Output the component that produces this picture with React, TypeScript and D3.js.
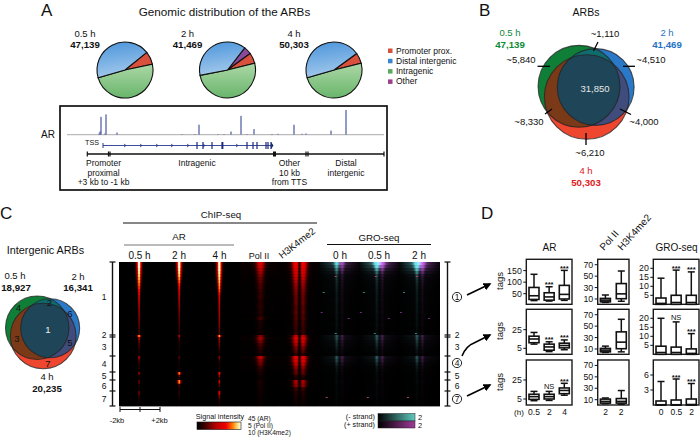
import React from "react";
import * as d3 from "d3";

const FONT = "'Liberation Sans', Arial, sans-serif";

// ---------- Panel A ----------
const pieLabels = ["0.5 h", "2 h", "4 h"];
const pieCounts = ["47,139", "41,469", "50,303"];
const pieShares = [
  [27, 176, 157, 0],
  [22, 183, 139, 16],
  [22, 178, 160, 0],
];
const pieStarts = [51, 38, 54];
const legendNames = ["Promoter prox.", "Distal intergenic", "Intragenic", "Other"];
const trackPeaks = [
  [32, 1], [33, 3], [34, 18], [38, 1], [39, 20.5], [50, 2], [115, 0.5], [128, 0.5], [132, 10],
  [151, 0.5], [157, 0.5], [164, 3], [174, 19], [180, 0.5], [187, 5.5], [205, 0.5], [211, 0.7],
  [227, 10], [235, 0.7], [239, 1], [264, 4], [279, 25],
];
const geneExons = [130, 136, 145, 155, 180, 186, 190, 199, 201, 204];
const geneChevrons = [58, 74, 90, 105, 121, 137, 170];
const regionTicks = [20.3, 41.5, 43, 207.5, 239, 241, 317];

// ---------- Venns ----------
const vennB = { labels: ["0.5 h", "2 h", "4 h"], counts: [47139, 41469, 50303] };
const vennC = { labels: ["0.5 h", "2 h", "4 h"], counts: [18927, 16341, 20235] };
const vennCNumbers = ["1", "2", "3", "4", "5", "6", "7"];

// ---------- Panel C heat map: row intensities per track, per cluster ----------
const clusterSizes = [73, 2, 19, 16, 8, 11, 15];
const ar05 = [
  [1, 1, 0.98, 0.96, 0.93, 0.9, 0.86, 0.82, 0.78, 0.72, 0.66, 0.6, 0.56, 0.52, 0.5, 0.47, 0.44, 0.42, 0.4, 0.37, 0.34, 0.3, 0.26, 0.22],
  [0.85], [0.5, 0.36, 0.28, 0.2, 0.12, 0.08], [0.5, 0.3, 0.18, 0.12, 0.08], [0.45, 0.1, 0.06], [0.34, 0.12, 0.07], [0.36, 0.18, 0.09, 0.04],
];
const ar2 = [
  [1, 1, 0.98, 0.95, 0.92, 0.86, 0.8, 0.74, 0.68, 0.62, 0.58, 0.54, 0.5, 0.47, 0.44, 0.4, 0.36, 0.32, 0.3, 0.28, 0.25, 0.22, 0.2, 0.18],
  [0.55], [0.26, 0.18, 0.12, 0.09, 0.07, 0.05], [0.28, 0.1, 0.07, 0.05, 0.04], [0.82, 0.28, 0.14], [0.85, 0.26, 0.1], [0.18, 0.09, 0.05, 0.03],
];
const ar4 = [
  [1, 1, 1, 0.98, 0.96, 0.93, 0.9, 0.86, 0.82, 0.76, 0.68, 0.62, 0.58, 0.55, 0.52, 0.5, 0.47, 0.45, 0.42, 0.4, 0.37, 0.34, 0.3, 0.26],
  [0.86], [0.46, 0.4, 0.32, 0.24, 0.14, 0.09], [0.4, 0.18, 0.1, 0.09, 0.07], [0.66, 0.4, 0.18], [0.52, 0.26, 0.1], [0.62, 0.36, 0.18, 0.08],
];
const polII = [
  [0.52, 0.48, 0.42, 0.36, 0.3, 0.26, 0.24, 0.2, 0.19, 0.16, 0.14, 0.16, 0.12, 0.11, 0.13, 0.1, 0.11, 0.09, 0.18, 0.08, 0.07, 0.06, 0.06, 0.05],
  [0.3], [0.36, 0.28, 0.2, 0.14, 0.1, 0.07], [0.42, 0.32, 0.26, 0.16, 0.1], [0.07, 0.05, 0.04], [0.08, 0.06, 0.05], [0.05, 0.04, 0.03, 0.03],
];
const h3k4 = [
  [0.62, 0.6, 0.56, 0.52, 0.48, 0.44, 0.4, 0.36, 0.33, 0.3, 0.28, 0.26, 0.25, 0.25, 0.22, 0.21, 0.23, 0.2, 0.21, 0.18, 0.18, 0.16, 0.15, 0.16],
  [0.44], [0.52, 0.46, 0.38, 0.28, 0.22, 0.14], [0.56, 0.54, 0.44, 0.34, 0.26], [0.24, 0.12, 0.08], [0.38, 0.34, 0.16], [0.1, 0.08, 0.06, 0.04],
];
const gro0 = [
  [0.8, 0.66, 0.5, 0.36, 0.24, 0.2, 0.17, 0.15, 0.13, 0.12, 0.1, 0.1, 0.11, 0.09, 0.08, 0.08, 0.09, 0.07, 0.07, 0.06, 0.07, 0.05, 0.05, 0.06],
  [0.34], [0.3, 0.22, 0.18, 0.12, 0.08, 0.06], [0.34, 0.28, 0.18, 0.1, 0.07], [0.05, 0.04, 0.03], [0.05, 0.03, 0.03], [0.03, 0.03, 0.02, 0.02],
];
const gro05 = [
  [1, 0.84, 0.62, 0.42, 0.28, 0.22, 0.18, 0.15, 0.14, 0.12, 0.11, 0.1, 0.11, 0.09, 0.09, 0.08, 0.09, 0.07, 0.07, 0.06, 0.07, 0.05, 0.05, 0.06],
  [0.36], [0.32, 0.24, 0.18, 0.12, 0.08, 0.06], [0.36, 0.28, 0.18, 0.1, 0.07], [0.05, 0.04, 0.03], [0.05, 0.03, 0.03], [0.03, 0.03, 0.02, 0.02],
];
const gro2 = [
  [1, 0.88, 0.7, 0.5, 0.32, 0.24, 0.2, 0.16, 0.14, 0.12, 0.11, 0.1, 0.11, 0.09, 0.09, 0.08, 0.09, 0.07, 0.07, 0.06, 0.07, 0.05, 0.05, 0.06],
  [0.36], [0.3, 0.24, 0.18, 0.12, 0.08, 0.06], [0.32, 0.26, 0.16, 0.1, 0.07], [0.05, 0.04, 0.03], [0.05, 0.03, 0.03], [0.03, 0.03, 0.02, 0.02],
];
// isolated GRO-seq specks: [track, row (peak rank), offset from centre, 0 = pink, 1 = teal, 2 = purple]
const groSpecks = [
  [5, 14, -4, 0], [6, 14, -4, 0], [7, 14, -3, 0],
  [5, 30, -16, 1], [6, 30, -16, 1], [7, 30, -16, 1],
  [5, 50, -18, 2], [6, 50, -19, 2], [7, 50, -19, 2],
  [5, 56, 9, 2], [6, 56, 9, 2], [7, 56, 9, 2],
  [5, 71, -4, 1], [6, 71, -5, 1], [7, 71, -4, 1],
  [5, 135, -13, 0], [6, 135, -12, 0], [7, 135, -12, 0],
];
const speckColors = ["#b03a78", "#2f8a7e", "#6e2e7c"];
const chipHeaders = ["0.5 h", "2 h", "4 h", "Pol II"];
const groHeaders = ["0 h", "0.5 h", "2 h"];
const rightLabels = ["1", "2", "3", "4", "5", "6", "7"];

// ---------- Panel D boxes: [low, q1, median, q3, high] ----------
const arRow1 = [[20, 25, 41, 77, 134], [18, 22, 36, 54, 80], [21, 27, 47, 86, 151]];
const arRow2 = [[9.5, 11, 15, 18, 22], [1.5, 3, 6.5, 9.5, 12], [3.5, 5.5, 8, 10.5, 14]];
const arRow3 = [[3.2, 4.6, 7.5, 10, 13], [3.5, 5, 7.5, 10, 13], [9, 10.6, 14, 16.6, 21.5]];
const polRow1 = [[4, 5, 8, 11, 17], [6, 10.5, 19, 37, 59]];
const polRow2 = [[4, 5, 8, 11, 15], [5, 10.5, 22, 40, 62]];
const polRow3 = [[3, 4, 7, 11, 13], [2, 4, 7, 12, 26]];
const groRow1 = [[0, 0, 0.5, 3.5, 14.5], [0, 0, 1, 5, 19], [0, 0, 1, 5, 18]];
const groRow2 = [[0, 0, 1, 4.5, 20], [0, 0, 1, 4, 18], [0, 0, 0.5, 3, 11.5]];
const groRow3 = [[0, 0, 0.05, 0.8, 4.7], [0, 0, 0.05, 1, 5.2], [0, 0, 0.1, 1.2, 4.3]];
const arTicks = [[50, 100, 150], [5, 25], [5, 25]];
const polTicks = [10, 30, 50, 70];
const groTicks = [[5, 10, 15, 20], [5, 10, 15, 20], [3, 6]];
const arMarks = [["", "***", "***"], ["", "***", "***"], ["", "NS", "***"]];
const groMarks = [["", "***", "***"], ["", "NS", "***"], ["", "***", "***"]];
const arCats = ["0.5", "2", "4"];
const polCats = ["2", "2"];
const groCats = ["0", "0.5", "2"];

// ---------- helpers ----------
const hot = d3
  .scaleLinear<string>()
  .domain([0, 0.15, 0.45, 0.66, 0.8, 0.92, 1])
  .range(["#000000", "#300000", "#c00000", "#f00000", "#ff7000", "#ffe070", "#ffffff"])
  .clamp(true);
const g = (d: number, m: number, s: number) => Math.exp(-((d - m) * (d - m)) / (2 * s * s));
const arColor = (d: number, v: number) =>
  hot(v * g(d, 0, 0.5 + 1.2 * v * v * v * v) + 0.03 * v * g(d, 0, 3));
const polColor = (d: number, v: number) => hot(v * g(d, 1, 2 + 2.5 * v) + 0.05 * v);
const h3Color = (d: number, v: number) =>
  hot(v * g(Math.abs(d), 3.4, 1.6 + 2.4 * v) * (1 - 0.95 * g(d, 0, 0.9)) + 0.06 * v * g(d, 0, 12));
const groColor = (d: number, v: number) => {
  const s = 0.9 + 1.6 * v * v;
  const t = Math.min(1, v * g(d, -3, s) + 0.22 * v * v * g(d, -9, 6) + 0.12 * v * g(d, -3, 10));
  const p = Math.min(1, 0.85 * v * g(d, 2.5, s) + 0.22 * v * v * g(d, 8, 6) + 0.12 * v * g(d, 3, 10));
  return d3.rgb(85 * t + 175 * p, 215 * t + 60 * p, 205 * t + 185 * p).formatHex();
};

const heatX = d3.scaleLinear().domain([0, 8]).range([119, 440]);
const heatY = d3.scaleLinear().domain([0, d3.sum(clusterSizes)]).range([262, 406]);
const clusterEdges = d3.cumsum(clusterSizes);

const tracks: { rows: number[][]; color: (d: number, v: number) => string }[] = [
  { rows: ar05, color: arColor },
  { rows: ar2, color: arColor },
  { rows: ar4, color: arColor },
  { rows: polII, color: polColor },
  { rows: h3k4, color: h3Color },
  { rows: gro0, color: groColor },
  { rows: gro05, color: groColor },
  { rows: gro2, color: groColor },
];

function Heatmap() {
  const defs: React.ReactNode[] = [];
  const rects: React.ReactNode[] = [];
  const stopsIdx = d3.range(0, 81);
  tracks.forEach((tr, ti) => {
    const x0 = heatX(ti);
    const x1 = heatX(ti + 1);
    tr.rows.forEach((rows, ci) => {
      const start = ci === 0 ? 0 : clusterEdges[ci - 1];
      const size = clusterSizes[ci];
      rows.forEach((v, ri) => {
        const id = `h${ti}-${ci}-${ri}`;
        defs.push(
          <linearGradient id={id} key={id}>
            {stopsIdx.map((i) => (
              <stop key={i} offset={i / 80} stopColor={tr.color(i / 2 - 20, v)} />
            ))}
          </linearGradient>
        );
        const y0 = heatY(start + (size * ri) / rows.length);
        const y1 = heatY(start + (size * (ri + 1)) / rows.length);
        rects.push(<rect key={id} x={x0} y={y0} width={x1 - x0} height={y1 - y0 + 0.4} fill={`url(#${id})`} />);
      });
    });
  });
  return (
    <g>
      <defs>{defs}</defs>
      <rect x={119} y={262} width={321} height={144} fill="#000" />
      {rects}
      {groSpecks.map(([t, r, d, c], i) => (
        <rect key={i} x={heatX(t + 0.5) + d - 1} y={heatY(r)} width={2} height={1} fill={speckColors[c]} />
      ))}
    </g>
  );
}

function Pie({ cx, cy, idx }: { cx: number; cy: number; idx: number }) {
  const vals = pieShares[idx];
  const start = (pieStarts[idx] * Math.PI) / 180;
  const pie = d3.pie<number>().sort(null).startAngle(start).endAngle(start + 2 * Math.PI);
  const arc = d3.arc<d3.PieArcDatum<number>>().innerRadius(0).outerRadius(28);
  const fills = ["#d9503c", "url(#pGreen)", "url(#pBlue)", "#8a4a9c"];
  const order = [3, 0, 1, 2];
  const arcs = pie(order.map((i) => vals[i]));
  return (
    <g transform={`translate(${cx},${cy})`}>
      {arcs.map((a, i) =>
        a.value === 0 ? null : <path key={i} d={arc(a) || ""} fill={fills[order[i]]} stroke="#111" strokeWidth={1.1} />
      )}
      <text x={-40} y={-33} textAnchor="middle" fontSize={9.5}>{pieLabels[idx]}</text>
      <text x={-40} y={-22} textAnchor="middle" fontSize={9.7} fontWeight="bold">{pieCounts[idx]}</text>
    </g>
  );
}

function Venn({ id, cx, cy, rMax, scale, counts }: { id: string; cx: number; cy: number; rMax: number; scale: number; counts: number[] }) {
  const r = d3.scaleSqrt().domain([0, d3.max(counts) as number]).range([0, rMax]);
  const gc = { x: cx - 7.7 * scale, y: cy - 10.7 * scale, r: r(counts[0]) };
  const bc = { x: cx + 9 * scale, y: cy - 10 * scale, r: r(counts[1]) };
  const rc = { x: cx, y: cy, r: r(counts[2]) };
  const C = (c: typeof gc, fill: string, extra: any = {}) => <circle cx={c.x} cy={c.y} r={c.r} fill={fill} {...extra} />;
  return (
    <g>
      <defs>
        <clipPath id={`${id}G`}>{C(gc, "#000")}</clipPath>
        <clipPath id={`${id}R`}>{C(rc, "#000")}</clipPath>
      </defs>
      {C(gc, "#0f7f38")}
      {C(bc, "#2a78c8")}
      {C(rc, "#ef4630")}
      <g clipPath={`url(#${id}G)`}>{C(rc, "#7a3a17")}</g>
      <g clipPath={`url(#${id}G)`}>{C(bc, "#0f6b6c")}</g>
      <g clipPath={`url(#${id}R)`}>{C(bc, "#3f4c7c")}</g>
      <g clipPath={`url(#${id}G)`}>
        <g clipPath={`url(#${id}R)`}>{C(bc, "#1f4658")}</g>
      </g>
      {[gc, bc, rc].map((c, i) => (
        <circle key={i} cx={c.x} cy={c.y} r={c.r} fill="none" stroke="#222" strokeOpacity={0.75} strokeWidth={1.1} />
      ))}
    </g>
  );
}

function BoxPanel({ x0, x1, y0, y1, domain, boxes, ticks, marks }: {
  x0: number; x1: number; y0: number; y1: number; domain: number[]; boxes: number[][]; ticks: number[]; marks?: string[];
}) {
  const y = d3.scaleLinear().domain(domain).range([y1, y0]);
  const x = d3.scalePoint<number>().domain(boxes.map((_, i) => i)).range([x0 + 7.7, x1 - 7.7]);
  const w = 5;
  return (
    <g>
      <rect x={x0} y={y0} width={x1 - x0} height={y1 - y0} fill="#fff" stroke="#1a1a1a" strokeWidth={1.4} />
      {ticks.map((t) => (
        <g key={t}>
          <line x1={x0 - 3} x2={x0} y1={y(t)} y2={y(t)} stroke="#111" strokeWidth={1} />
          <text x={x0 - 4.5} y={y(t) + 3} textAnchor="end" fontSize={8.8}>{t}</text>
        </g>
      ))}
      {boxes.map((b, i) => {
        const cx = x(i) as number;
        const [lo, q1, med, q3, hi] = b;
        return (
          <g key={i} stroke="#111" strokeWidth={1.5} fill="none">
            <line x1={cx} x2={cx} y1={y(hi)} y2={y(q3)} />
            <line x1={cx} x2={cx} y1={y(q1)} y2={y(lo)} />
            <line x1={cx - 3.5} x2={cx + 3.5} y1={y(hi)} y2={y(hi)} />
            <line x1={cx - 3.5} x2={cx + 3.5} y1={y(lo)} y2={y(lo)} />
            <rect x={cx - w} y={y(q3)} width={2 * w} height={y(q1) - y(q3)} fill="#fff" strokeWidth={1.6} />
            <line x1={cx - w} x2={cx + w} y1={y(med)} y2={y(med)} strokeWidth={1.6} />
          </g>
        );
      })}
      {marks && marks.map((m, i) =>
        m ? (
          <text key={i} x={x(i) as number} y={m === "NS" ? y(boxes[i][4]) - 2 : y(boxes[i][4]) + 0.5} textAnchor="middle"
            fontSize={7.5} fontWeight={m === "NS" ? "normal" : "bold"}>{m}</text>
        ) : null
      )}
    </g>
  );
}

function Bracket({ x }: { x: number }) {
  const edges = [0, ...clusterEdges.slice(0, 6), d3.sum(clusterSizes)];
  return (
    <g stroke="#111" strokeWidth={1.4}>
      <line x1={x} x2={x} y1={262} y2={406} />
      {edges.map((e, i) => {
        const y = heatY(e);
        return <line key={i} x1={x - 3} x2={x + 3} y1={y} y2={y} strokeWidth={1.2} />;
      })}
    </g>
  );
}

const leftLabelY = [297, 335, 347, 364, 376, 386, 399];
const rightLabelY = [297, 335, 347, 363, 376, 386, 399];

export default function App() {
  const trackX = d3.scaleLinear().domain([0, 317]).range([67, 384]);
  const trackH = d3.scaleLinear().domain([0, 25]).range([0, 24.5]);
  const pieX = [125, 227.5, 334];
  const legendColors = ["#d9503c", "#3a86d0", "#5cab5c", "#9c3f8c"];
  const rowY: [number, number][] = [[259.3, 304.3], [309.3, 354.3], [360, 405]];
  const arCols = [arRow1, arRow2, arRow3];
  const polCols = [polRow1, polRow2, polRow3];
  const groCols = [groRow1, groRow2, groRow3];
  const arDom = [[4, 199], [-1.4, 46.8], [-1.3, 46]];
  const groDom = [[0, 25], [0, 25], [0, 9]];
  const hdrX = [139.5, 179, 219.5, 259];
  const groX = [340, 379, 419];
  const tagsY = [281, 331, 382];
  const stripB = d3.scaleLinear<string>().domain([0, 1]).range(["#000", "#5fc9c0"]);
  const stripP = d3.scaleLinear<string>().domain([0, 1]).range(["#000", "#a03a98"]);
  return (
    <svg width={700} height={437} viewBox="0 0 700 437" fontFamily={FONT} fill="#111"
      style={{ position: "absolute", left: 0, top: 0, background: "#fff" }}>
      <defs>
        <linearGradient id="pBlue" x1="0.3" y1="0" x2="0.5" y2="1">
          <stop offset="0" stopColor="#4f97dc" />
          <stop offset="1" stopColor="#a6cbec" />
        </linearGradient>
        <linearGradient id="pGreen" x1="0" y1="0" x2="0" y2="1">
          <stop offset="0" stopColor="#acd8a6" />
          <stop offset="1" stopColor="#69b56b" />
        </linearGradient>
        <linearGradient id="sigBar">
          {d3.range(0, 21).map((i) => (
            <stop key={i} offset={i / 20} stopColor={hot(i / 20)} />
          ))}
        </linearGradient>
        <linearGradient id="tealBar">
          {d3.range(0, 6).map((i) => <stop key={i} offset={i / 5} stopColor={stripB(i / 5)} />)}
        </linearGradient>
        <linearGradient id="purpBar">
          {d3.range(0, 6).map((i) => <stop key={i} offset={i / 5} stopColor={stripP(i / 5)} />)}
        </linearGradient>
        <marker id="arrow" viewBox="0 0 10 10" refX="8" refY="5" markerWidth="5" markerHeight="5" orient="auto-start-reverse" markerUnits="strokeWidth">
          <path d="M0,0 L10,5 L0,10 Z" fill="#000" />
        </marker>
      </defs>

      {/* Panel A */}
      <text x={41} y={15.5} fontSize={17}>A</text>
      <text x={224.5} y={16} textAnchor="middle" fontSize={11.7}>Genomic distribution of the ARBs</text>
      {pieX.map((cx, i) => <Pie key={i} cx={cx} cy={70} idx={i} />)}
      {legendNames.map((n, i) => (
        <g key={n}>
          <rect x={388} y={48.5 + i * 10.3} width={4.5} height={4.5} fill={legendColors[i]} />
          <text x={396} y={53.5 + i * 10.3} fontSize={8.5}>{n}</text>
        </g>
      ))}
      <rect x={60} y={106} width={327} height={84} fill="#fff" stroke="#111" strokeWidth={1.7} />
      <text x={41} y={138} fontSize={10}>AR</text>
      <line x1={67} x2={384} y1={134.7} y2={134.7} stroke="#aaa" strokeWidth={1} />
      {trackPeaks.map(([p, h], i) => (
        <rect key={i} x={trackX(p) - 0.5} y={134.5 - trackH(h)} width={1} height={trackH(h)} fill="#27398e" />
      ))}
      <text x={92} y={144.5} textAnchor="middle" fontSize={7.2}>TSS</text>
      <line x1={trackX(36)} x2={trackX(206)} y1={145.5} y2={145.5} stroke="#27398e" strokeWidth={0.9} />
      <line x1={trackX(36)} x2={trackX(36)} y1={143} y2={148} stroke="#27398e" strokeWidth={1} />
      {geneExons.map((p, i) => (
        <rect key={i} x={trackX(p) - 0.6} y={142} width={i === 3 ? 2 : 1.2} height={7} fill="#1c2a7a" />
      ))}
      {geneChevrons.map((p) => (
        <path key={p} d={`M${trackX(p) - 1},144 L${trackX(p) + 1},145.5 L${trackX(p) - 1},147`} fill="none" stroke="#27398e" strokeWidth={0.8} />
      ))}
      <path d={`M${trackX(204)},142 L${trackX(206.5)},145.5 L${trackX(204)},149 Z`} fill="#1c2a7a" />
      <line x1={trackX(20.3)} x2={trackX(317)} y1={154} y2={154} stroke="#111" strokeWidth={1.3} />
      {regionTicks.map((p, i) => (
        <line key={i} x1={trackX(p)} x2={trackX(p)} y1={151.5} y2={156.5} stroke="#111" strokeWidth={i === 3 ? 3 : 1.2} />
      ))}
      {[["Promoter", 165.5], ["proximal", 175.5], ["+3 kb to -1 kb", 185]].map(([t, y]) => (
        <text key={t as string} x={103.5} y={y as number} textAnchor="middle" fontSize={8.5}>{t}</text>
      ))}
      <text x={197} y={165.5} textAnchor="middle" fontSize={8.5}>Intragenic</text>
      {[["Other", 165.5], ["10 kb", 175.5], ["from TTS", 185]].map(([t, y]) => (
        <text key={t as string} x={289.5} y={y as number} textAnchor="middle" fontSize={8.5}>{t}</text>
      ))}
      {[["Distal", 165.5], ["intergenic", 175.5]].map(([t, y]) => (
        <text key={t as string} x={346} y={y as number} textAnchor="middle" fontSize={8.5}>{t}</text>
      ))}

      {/* Panel B */}
      <text x={479} y={15.5} fontSize={17}>B</text>
      <text x={586} y={16} textAnchor="middle" fontSize={10.5}>ARBs</text>
      <Venn id="vb" cx={586.7} cy={97} rMax={42.3} scale={1} counts={vennB.counts} />
      <text x={510} y={36} textAnchor="middle" fontSize={9.5} fill="#0d8a36">{vennB.labels[0]}</text>
      <text x={510} y={47.5} textAnchor="middle" fontSize={9.7} fontWeight="bold" fill="#0d8a36">47,139</text>
      <text x={667} y={36} textAnchor="middle" fontSize={9.5} fill="#1f72c4">{vennB.labels[1]}</text>
      <text x={667} y={47.5} textAnchor="middle" fontSize={9.7} fontWeight="bold" fill="#1f72c4">41,469</text>
      <text x={586} y={174} textAnchor="middle" fontSize={9.5} fill="#e01a1a">{vennB.labels[2]}</text>
      <text x={586} y={186} textAnchor="middle" fontSize={9.7} fontWeight="bold" fill="#e01a1a">50,303</text>
      <text x={595} y={92} textAnchor="middle" fontSize={9.5} fill="#e6e6e6">31,850</text>
      {[["~1,110", 605, 36.5], ["~5,840", 521, 63], ["~4,510", 651, 63], ["~8,330", 529, 125], ["~4,000", 644, 124.5], ["~6,210", 590, 156]].map(([t, x, y]) => (
        <text key={t as string} x={x as number} y={y as number} textAnchor="middle" fontSize={9.5}>{t}</text>
      ))}
      <g stroke="#000" strokeWidth={1.3}>
        <line x1={593.5} x2={598} y1={51} y2={42} />
        <line x1={537.5} x2={550} y1={66.3} y2={66.3} />
        <line x1={623} x2={635} y1={66.3} y2={66.3} />
        <line x1={545} x2={552} y1={114} y2={109} />
        <line x1={620} x2={631} y1={109} y2={114.5} />
        <line x1={586} x2={586} y1={133} y2={145} />
      </g>

      {/* Panel C */}
      <text x={0} y={219} fontSize={17}>C</text>
      <text x={45.5} y={254} textAnchor="middle" fontSize={10.8}>Intergenic ARBs</text>
      <text x={15} y={279} textAnchor="middle" fontSize={9.5}>{vennC.labels[0]}</text>
      <text x={16} y={290.5} textAnchor="middle" fontSize={9.7} fontWeight="bold">18,927</text>
      <text x={78} y={279.5} textAnchor="middle" fontSize={9.5}>{vennC.labels[1]}</text>
      <text x={78} y={291} textAnchor="middle" fontSize={9.7} fontWeight="bold">16,341</text>
      <Venn id="vc" cx={43.2} cy={336} rMax={32.8} scale={0.775} counts={vennC.counts} />
      {vennCNumbers.map((n, i) => {
        const pts = [[48, 333], [49.5, 305.5], [17, 342], [18.5, 310.5], [70, 345.5], [70, 316.5], [48, 366.5]];
        return <text key={n} x={pts[i][0]} y={pts[i][1]} textAnchor="middle" fontSize={9.5} fill={i === 0 ? "#eee" : "#111"}>{n}</text>;
      })}
      <text x={47} y={380} textAnchor="middle" fontSize={9.5}>{vennC.labels[2]}</text>
      <text x={47} y={392} textAnchor="middle" fontSize={9.7} fontWeight="bold">20,235</text>

      <text x={221} y={218} textAnchor="middle" fontSize={9.7}>ChIP-seq</text>
      <line x1={123} x2={317} y1={223} y2={223} stroke="#111" strokeWidth={1.1} />
      <text x={179} y={240} textAnchor="middle" fontSize={9.7}>AR</text>
      <line x1={124} x2={234} y1={245} y2={245} stroke="#777" strokeWidth={1} />
      {hdrX.map((x, i) => (
        <text key={i} x={x} y={258.5} textAnchor="middle" fontSize={i === 3 ? 9 : 10}>{chipHeaders[i]}</text>
      ))}
      <text transform="translate(282,259) rotate(-38)" fontSize={9.7}>H3K4me2</text>
      <text x={379} y={240.5} textAnchor="middle" fontSize={9.7}>GRO-seq</text>
      <line x1={327} x2={431} y1={244.5} y2={244.5} stroke="#111" strokeWidth={1.1} />
      {groX.map((x, i) => (
        <text key={i} x={x} y={258.5} textAnchor="middle" fontSize={10}>{groHeaders[i]}</text>
      ))}

      <Heatmap />
      <Bracket x={112.5} />
      <Bracket x={447.5} />
      {rightLabels.map((n, i) => (
        <text key={n} x={104} y={leftLabelY[i] + 3} textAnchor="middle" fontSize={8.5}>{n}</text>
      ))}
      {rightLabels.map((n, i) => {
        const circled = i === 0 || i === 3 || i === 6;
        return (
          <g key={n}>
            {circled && <circle cx={457} cy={rightLabelY[i]} r={4.6} fill="none" stroke="#111" strokeWidth={0.9} />}
            <text x={457} y={rightLabelY[i] + 3} textAnchor="middle" fontSize={8.5}>{n}</text>
          </g>
        );
      })}
      <g stroke="#000" strokeWidth={1.6} fill="none">
        <line x1={467} y1={295} x2={490} y2={284} markerEnd="url(#arrow)" />
        <path d="M462,356 Q466,346 474,343 L490,335" markerEnd="url(#arrow)" />
        <line x1={467} y1={396} x2={490} y2={385} markerEnd="url(#arrow)" />
      </g>

      <g stroke="#111" strokeWidth={1}>
        <line x1={120} x2={160} y1={409.5} y2={409.5} />
        {[120, 140, 160].map((x) => <line key={x} x1={x} x2={x} y1={407} y2={412} />)}
      </g>
      <text x={117} y={423} textAnchor="middle" fontSize={7.5}>-2kb</text>
      <text x={159.5} y={423} textAnchor="middle" fontSize={7.5}>+2kb</text>
      <text x={220} y={419} textAnchor="middle" fontSize={7.2}>Signal intensity</text>
      <rect x={197} y={422} width={44} height={7.5} fill="url(#sigBar)" stroke="#111" strokeWidth={0.6} />
      <text x={248} y={421} fontSize={6.6}>45 (AR)</text>
      <text x={248} y={428} fontSize={6.6}>{"5   (Pol II)"}</text>
      <text x={248} y={435} fontSize={6.6}>10 (H3K4me2)</text>
      <text x={375} y={419} textAnchor="end" fontSize={7.2}>(- strand)</text>
      <text x={375} y={426.5} textAnchor="end" fontSize={7.2}>(+ strand)</text>
      <rect x={378} y={413.5} width={37} height={7.5} fill="url(#tealBar)" stroke="#222" strokeWidth={0.5} />
      <rect x={378} y={421} width={37} height={7} fill="url(#purpBar)" stroke="#222" strokeWidth={0.5} />
      <text x={418} y={419.5} fontSize={7.5}>2</text>
      <text x={418} y={427.5} fontSize={7.5}>2</text>

      {/* Panel D */}
      <text x={481} y={219} fontSize={17}>D</text>
      <text x={549.5} y={251} textAnchor="middle" fontSize={10}>AR</text>
      <text x={676.5} y={251} textAnchor="middle" fontSize={10}>GRO-seq</text>
      <text transform="translate(604,251) rotate(-48)" fontSize={10}>Pol II</text>
      <text transform="translate(622,251) rotate(-48)" fontSize={10}>H3K4me2</text>
      {tagsY.map((y, i) => (
        <text key={i} transform={`translate(503,${y}) rotate(-90)`} textAnchor="middle" fontSize={9.5}>tags</text>
      ))}
      {rowY.map(([y0, y1], i) => (
        <g key={i}>
          <BoxPanel x0={526.3} x1={572} y0={y0} y1={y1} domain={arDom[i]} boxes={arCols[i]} ticks={arTicks[i]} marks={arMarks[i]} />
          <BoxPanel x0={597.7} x1={629} y0={y0} y1={y1} domain={[0.7, 79.5]} boxes={polCols[i]} ticks={polTicks} />
          <BoxPanel x0={653.3} x1={699} y0={y0} y1={y1} domain={groDom[i]} boxes={groCols[i]} ticks={groTicks[i]} marks={groMarks[i]} />
        </g>
      ))}
      <text x={519} y={415} textAnchor="middle" fontSize={8}>(h)</text>
      {arCats.map((c, i) => <text key={i} x={534 + i * 15.35} y={415} textAnchor="middle" fontSize={8.5}>{c}</text>)}
      {polCats.map((c, i) => <text key={i} x={605.7 + i * 15.3} y={415} textAnchor="middle" fontSize={8.5}>{c}</text>)}
      {groCats.map((c, i) => <text key={i} x={661 + i * 15.35} y={415} textAnchor="middle" fontSize={8.5}>{c}</text>)}
    </svg>
  );
}
